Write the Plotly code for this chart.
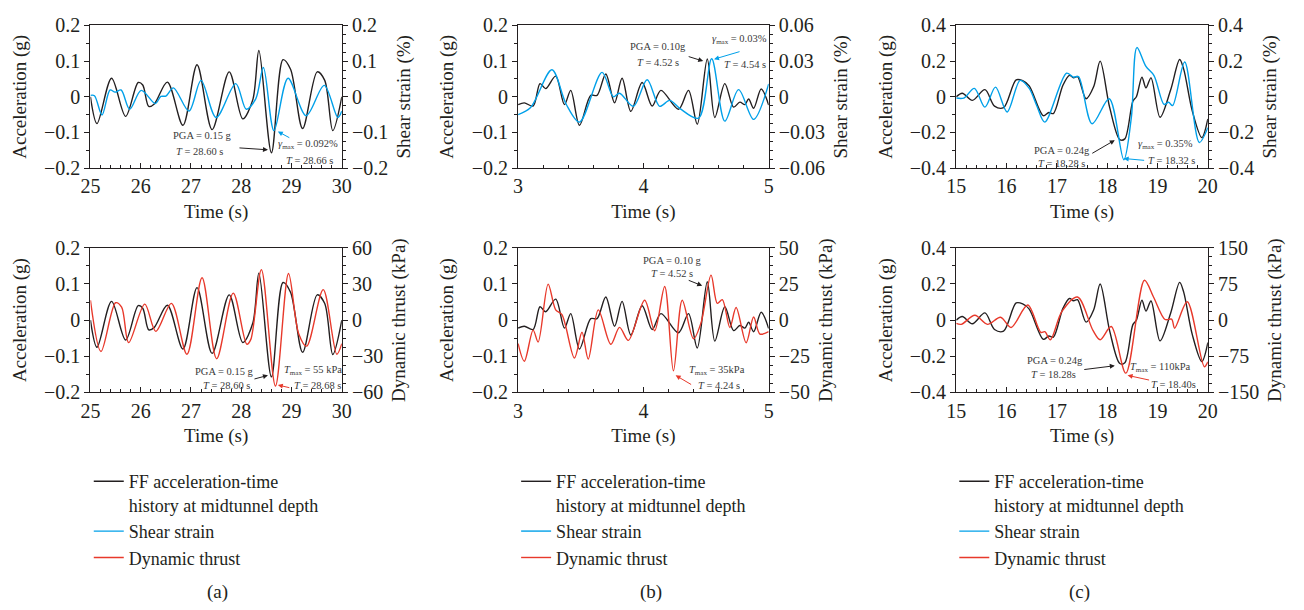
import plotly.graph_objects as go

W, H = 1304, 610
FONT = "Liberation Serif"
BLACK = "#231f20"
BLUE = "#00a0e9"
RED = "#e8392b"
ANN = "#3a3a3a"

# ---------------- data ----------------
# (a) window 25-30 s
a_t_acc = [25.00, 25.13, 25.42, 25.70, 25.95, 26.04, 26.16, 26.27, 26.53, 26.84, 27.12, 27.42,
           27.76, 28.03, 28.23, 28.35, 28.60, 28.83, 28.98, 29.22, 29.51, 29.66, 29.82, 30.00]
a_acc = [0.0, -0.075, 0.052, -0.055, 0.040, 0.033, -0.027, -0.020, 0.041, -0.080, 0.090, -0.092,
         0.070, -0.062, -0.008, 0.130, -0.157, 0.104, 0.077, -0.089, 0.070, 0.046, -0.095, 0.0]
a_t_ss = [25.00, 25.08, 25.23, 25.39, 25.49, 25.61, 25.78, 26.01, 26.29, 26.40, 26.50, 26.65, 26.96,
          27.20, 27.50, 27.89, 28.10, 28.29, 28.44, 28.65, 28.93, 29.29, 29.65, 29.92, 30.00]
a_ss = [0.004, 0.003, -0.051, 0.019, 0.013, 0.019, -0.035, 0.018, -0.019, 0.001, 0.002, 0.025, -0.040,
        0.046, -0.058, 0.037, -0.035, -0.005, 0.082, -0.095, 0.052, -0.053, 0.032, -0.058, -0.040]
a_t_th = [25.00, 25.21, 25.50, 25.62, 25.76, 26.08, 26.30, 26.61, 26.92, 27.22, 27.51, 27.84, 28.11,
          28.19, 28.40, 28.68, 28.94, 29.14, 29.30, 29.63, 29.90, 30.00]
a_th = [16.5, -26.0, 14.4, 10.7, -18.7, 13.3, -9.3, 13.9, -28.3, 35.2, -32.0, 22.4, -20.0,
        -16.0, 41.9, -54.7, 38.7, -11.0, -21.6, 25.3, -28.3, -19.5]

# (b) window 3-5 s
b_t_acc = [3.00, 3.05, 3.12, 3.175, 3.22, 3.30, 3.37, 3.42, 3.49, 3.58, 3.63, 3.70, 3.77, 3.83,
           3.90, 3.99, 4.07, 4.14, 4.28, 4.36, 4.43, 4.51, 4.57, 4.65, 4.72, 4.77, 4.81, 4.84,
           4.88, 4.94, 5.00]
b_acc = [-0.022, -0.017, -0.026, 0.037, 0.023, 0.058, -0.022, 0.018, -0.080, 0.004, 0.004, 0.064,
         -0.017, 0.052, -0.041, 0.040, -0.026, 0.018, -0.035, 0.018, -0.077, 0.106, -0.058, 0.037,
         -0.029, -0.015, -0.022, -0.006, -0.032, 0.022, -0.023]
b_t_ss = [3.00, 3.10, 3.27, 3.385, 3.49, 3.67, 3.76, 3.81, 3.92, 4.03, 4.13, 4.21, 4.29, 4.44,
          4.545, 4.65, 4.76, 4.88, 5.00]
b_ss = [-0.015, -0.009, 0.0227, -0.0065, -0.0213, 0.0205, 0.0, 0.003, -0.008, 0.0143, -0.008,
        -0.003, -0.0097, -0.018, 0.032, -0.0205, 0.006, -0.019, 0.0108]
b_t_th = [3.00, 3.05, 3.12, 3.16, 3.24, 3.30, 3.35, 3.45, 3.51, 3.56, 3.64, 3.74, 3.81, 3.88,
          4.01, 4.09, 4.17, 4.24, 4.31, 4.40, 4.46, 4.54, 4.59, 4.63, 4.69, 4.74, 4.82, 4.88,
          4.93, 5.00]
b_th = [-16.2, -28.4, -6.9, -15.1, 24.9, 7.1, 3.8, -26.2, -8.4, -26.9, 7.1, -16.7, -5.0, -14.0,
        13.8, -7.3, 23.3, -35.1, 13.8, -12.9, -1.8, 31.1, 11.6, 14.2, -5.1, 8.7, -15.6, 2.2,
        -9.6, -8.0]

# (c) window 15-20 s
c_t_acc = [15.00, 15.12, 15.32, 15.57, 15.76, 15.94, 16.19, 16.32, 16.45, 16.73, 16.84, 16.93,
           17.12, 17.25, 17.33, 17.41, 17.58, 17.73, 17.86, 18.05, 18.25, 18.35, 18.51, 18.58,
           18.69, 18.77, 18.87, 19.05, 19.26, 19.44, 19.52, 19.69, 19.88, 20.00]
c_acc = [0.0, 0.020, -0.020, 0.040, -0.052, -0.061, 0.095, 0.090, 0.061, -0.106, -0.088, -0.094,
         0.065, 0.120, 0.107, 0.113, -0.011, 0.056, 0.200, -0.061, -0.240, -0.236, -0.025, 0.0,
         0.110, 0.050, 0.106, -0.115, 0.038, 0.209, 0.155, -0.079, -0.229, -0.124]
c_t_ss = [15.00, 15.15, 15.36, 15.57, 15.78, 16.01, 16.27, 16.45, 16.60, 16.76, 17.19, 17.33,
          17.43, 17.70, 18.04, 18.33, 18.48, 18.59, 18.77, 18.93, 19.13, 19.22, 19.30, 19.54,
          19.83, 20.00]
c_ss = [-0.007, -0.007, 0.047, -0.058, 0.054, -0.085, 0.092, 0.047, -0.050, -0.142, 0.132, 0.110,
        0.113, -0.151, -0.011, -0.353, -0.115, 0.276, 0.170, 0.119, -0.043, -0.031, -0.049, 0.195,
        -0.256, -0.173]
c_t_th = [15.00, 15.10, 15.37, 15.62, 15.88, 16.09, 16.42, 16.68, 16.76, 16.87, 17.10, 17.41,
          17.72, 17.86, 18.08, 18.37, 18.74, 18.92, 19.15, 19.28, 19.34, 19.59, 19.93, 20.00]
c_th = [-6.7, -8.7, 10.0, -8.7, 6.0, -15.3, 31.3, -25.3, -24.0, -40.7, 18.0, 48.0,
        -22.0, -40.7, -13.3, -110.0, 82.7, 48.0, 1.3, 2.0, -16.7, 38.0, -96.7, -86.7]

legend_names = ["FF acceleration-time<br>history at midtunnel depth", "Shear strain", "Dynamic thrust"]
captions = ["(a)", "(b)", "(c)"]

# ---------------- layout geometry ----------------
cols_px = [(81.7, 337.0), (516.0, 770.5), (961.0, 1216.5)]
rows_px = [(15.0, 163.0), (245.7, 395.7)]


def xdom(c):
    return [cols_px[c][0] / W, cols_px[c][1] / W]


def ydom(r):
    return [1 - rows_px[r][1] / H, 1 - rows_px[r][0] / H]


panels = [
    # row 0
    dict(col=0, row=0, tb=a_t_acc, vb=a_acc, tc=a_t_ss, vc=a_ss, color=BLUE, xr=[25, 30],
         yl=[-0.2, 0.2], yld=0.1, ylm=0.05, yr=[-0.2, 0.2], yrd=0.1, yrm=0.025, yrt="Shear strain (%)",
         leg="legend", showb=True),
    dict(col=1, row=0, tb=b_t_acc, vb=b_acc, tc=b_t_ss, vc=b_ss, color=BLUE, xr=[3, 5],
         yl=[-0.2, 0.2], yld=0.1, ylm=0.05, yr=[-0.06, 0.06], yrd=0.03, yrm=0.0075, yrt="Shear strain (%)",
         leg="legend2", showb=True),
    dict(col=2, row=0, tb=c_t_acc, vb=c_acc, tc=c_t_ss, vc=c_ss, color=BLUE, xr=[15, 20],
         yl=[-0.4, 0.4], yld=0.2, ylm=0.1, yr=[-0.4, 0.4], yrd=0.2, yrm=0.05, yrt="Shear strain (%)",
         leg="legend3", showb=True),
    # row 1
    dict(col=0, row=1, tb=a_t_acc, vb=a_acc, tc=a_t_th, vc=a_th, color=RED, xr=[25, 30],
         yl=[-0.2, 0.2], yld=0.1, ylm=0.05, yr=[-60, 60], yrd=30, yrm=7.5, yrt="Dynamic thrust (kPa)",
         leg="legend", showb=False),
    dict(col=1, row=1, tb=b_t_acc, vb=b_acc, tc=b_t_th, vc=b_th, color=RED, xr=[3, 5],
         yl=[-0.2, 0.2], yld=0.1, ylm=0.05, yr=[-50, 50], yrd=25, yrm=6.25, yrt="Dynamic thrust (kPa)",
         leg="legend2", showb=False),
    dict(col=2, row=1, tb=c_t_acc, vb=c_acc, tc=c_t_th, vc=c_th, color=RED, xr=[15, 20],
         yl=[-0.4, 0.4], yld=0.2, ylm=0.1, yr=[-150, 150], yrd=75, yrm=18.75, yrt="Dynamic thrust (kPa)",
         leg="legend3", showb=False),
]

tickfont = dict(family=FONT, size=20, color=BLACK)
titlefont = dict(family=FONT, size=19, color=BLACK)

fig = go.Figure()
layout = {}

for k, p in enumerate(panels, start=1):
    xid = "x" if k == 1 else f"x{k}"
    yl_n = 2 * k - 1
    yr_n = 2 * k
    ylid = "y" if yl_n == 1 else f"y{yl_n}"
    yrid = f"y{yr_n}"
    xkey = "xaxis" if k == 1 else f"xaxis{k}"
    ylkey = "yaxis" if yl_n == 1 else f"yaxis{yl_n}"
    yrkey = f"yaxis{yr_n}"

    layout[xkey] = dict(
        domain=xdom(p["col"]), anchor=ylid, range=p["xr"], dtick=1, tick0=p["xr"][0],
        ticks="inside", ticklen=5, tickwidth=1, tickcolor=BLACK,
        showline=True, linecolor=BLACK, linewidth=1.3, mirror=True,
        showgrid=False, zeroline=False, tickfont=tickfont,
        minor=dict(dtick=0.2, tick0=p["xr"][0], ticks="inside", ticklen=3, tickwidth=1,
                   tickcolor=BLACK, showgrid=False),
        title=dict(text="Time (s)", font=titlefont, standoff=8),
    )
    layout[ylkey] = dict(
        domain=ydom(p["row"]), anchor=xid, range=p["yl"], dtick=p["yld"], tick0=0,
        ticks="outside", ticklen=5, tickwidth=1, tickcolor=BLACK,
        showline=True, linecolor=BLACK, linewidth=1.3,
        showgrid=False, zeroline=False, tickfont=tickfont,
        minor=dict(dtick=p["ylm"], tick0=0, ticks="outside", ticklen=3, tickwidth=1,
                   tickcolor=BLACK, showgrid=False),
        title=dict(text="Acceleration (g)", font=titlefont, standoff=12),
    )
    layout[yrkey] = dict(
        domain=ydom(p["row"]), anchor=xid, overlaying=ylid, side="right",
        range=p["yr"], dtick=p["yrd"], tick0=0,
        ticks="outside", ticklen=5, tickwidth=1, tickcolor=BLACK,
        showline=True, linecolor=BLACK, linewidth=1.3,
        showgrid=False, zeroline=False, tickfont=tickfont,
        minor=dict(dtick=p["yrm"], tick0=0, ticks="outside", ticklen=3, tickwidth=1,
                   tickcolor=BLACK, showgrid=False),
        title=dict(text=p["yrt"], font=titlefont, standoff=9),
    )

    fig.add_trace(go.Scatter(
        x=p["tb"], y=p["vb"], xaxis=xid, yaxis=ylid, mode="lines",
        line=dict(color=BLACK, width=1.4, shape="spline", smoothing=0.9),
        name=legend_names[0], legend=p["leg"], showlegend=p["showb"], legendrank=1,
    ))
    fig.add_trace(go.Scatter(
        x=p["tc"], y=p["vc"], xaxis=xid, yaxis=yrid, mode="lines",
        line=dict(color=p["color"], width=1.4, shape="spline", smoothing=0.9),
        name=legend_names[1] if p["row"] == 0 else legend_names[2],
        legend=p["leg"], showlegend=True, legendrank=2 if p["row"] == 0 else 3,
    ))

# ---------------- annotations ----------------
ann_font = dict(family=FONT, size=10.5, color=ANN)
SUBMAX = "<sub><span style='font-size:7px'>max</span></sub>"
texts = [
    # (a) top
    ("PGA = 0.15 g", 196, 129), ("<i>T</i> = 28.60 s", 192, 146),
    ("<i>γ</i>" + SUBMAX + " = 0.092%", 303, 139), ("<i>T</i> = 28.66 s", 304, 155),
    # (a) bottom
    ("PGA = 0.15 g", 218, 374), ("<i>T</i> = 28.60 s", 220, 388),
    ("<i>T</i>" + SUBMAX + " = 55 kPa", 308, 373), ("<i>T</i> = 28.68 s", 312, 389),
    # (b) top
    ("PGA = 0.10g", 658, 37), ("<i>T</i> = 4.52 s", 658, 53),
    ("<i>γ</i>" + SUBMAX + " = 0.03%", 741, 30), ("<i>T</i> = 4.54 s", 746, 56),
    # (b) bottom
    ("PGA = 0.10 g", 673, 259), ("<i>T</i> = 4.52 s", 672, 272),
    ("<i>T</i>" + SUBMAX + " = 35kPa", 718, 373), ("<i>T</i> = 4.24 s", 720, 388),
    # (c) top
    ("PGA = 0.24g", 1068, 145), ("<i>T</i> = 18.28 s", 1068, 158),
    ("<i>γ</i>" + SUBMAX + " = 0.35%", 1173, 138), ("<i>T</i> = 18.32 s", 1180, 155),
    # (c) bottom
    ("PGA = 0.24g", 1061, 363), ("<i>T</i> = 18.28s", 1060, 377),
    ("<i>T</i>" + SUBMAX + " = 110kPa", 1168, 370), ("<i>T</i> = 18.40s", 1182, 387),
]
arrows = [
    ((232, 142), (262, 144), BLACK), ((285, 132), (272, 125), BLUE),
    ((247, 382), (262, 378), BLACK), ((285, 391), (272, 388), RED),
    ((688, 47), (704, 52), BLACK), ((742, 42), (715, 50), BLUE),
    ((688, 279), (703, 285), BLACK), ((693, 388), (676, 378), RED),
    ((1098, 148), (1122, 134), BLACK), ((1153, 155), (1131, 153), BLUE),
    ((1090, 372), (1122, 368), BLACK), ((1158, 383), (1135, 378), RED),
]
annotations = []
for txt, px, py in texts:
    annotations.append(dict(text=txt, x=px / W, y=1 - py / H, xref="paper", yref="paper",
                            showarrow=False, font=ann_font, xanchor="center", yanchor="middle"))
for (tx, ty), (hx, hy), col in arrows:
    annotations.append(dict(text="", x=hx / W, y=1 - hy / H, xref="paper", yref="paper",
                            showarrow=True, ax=tx - hx, ay=ty - hy, arrowhead=2, arrowsize=1,
                            arrowwidth=1, arrowcolor=col, standoff=0, startstandoff=0))
cap_x = [211, 651, 1086]
for cap, cx in zip(captions, cap_x):
    annotations.append(dict(text=cap, x=cx / W, y=1 - 603 / H, xref="paper", yref="paper",
                            showarrow=False, font=dict(family=FONT, size=19, color=BLACK),
                            xanchor="center", yanchor="middle"))

leg_common = dict(font=dict(family=FONT, size=18, color=BLACK), bgcolor="rgba(0,0,0,0)",
                  xanchor="left", yanchor="top", valign="top", tracegroupgap=0,
                  itemwidth=30, traceorder="normal", borderwidth=0)
leg_x = [80, 514, 959]
for i, key in enumerate(["legend", "legend2", "legend3"]):
    layout[key] = dict(x=leg_x[i] / W, y=1 - 469 / H, **leg_common)

fig.update_layout(
    width=W, height=H, margin=dict(l=0, r=0, t=0, b=0),
    paper_bgcolor="white", plot_bgcolor="white",
    annotations=annotations, **layout,
)

fig.write_html("out.html")
